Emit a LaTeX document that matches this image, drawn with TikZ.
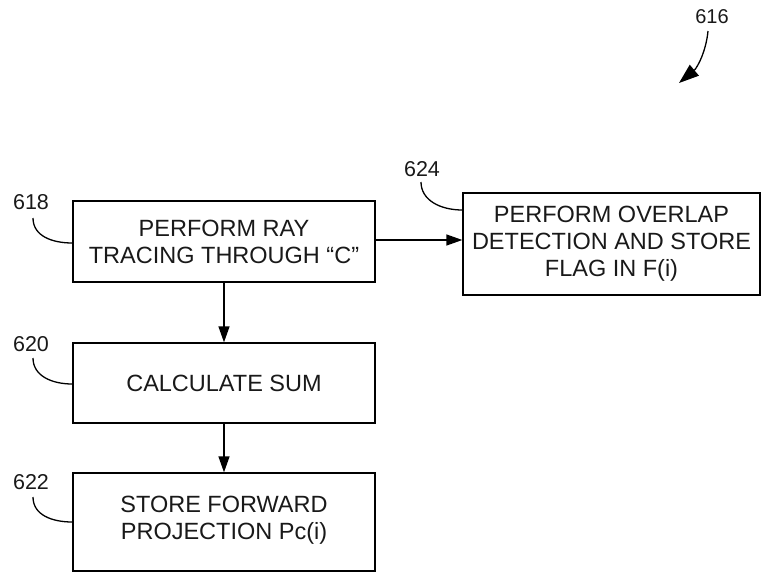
\documentclass[tikz,border=0pt]{standalone}
\usepackage{fontspec}
\setmainfont{Liberation Sans}
\usetikzlibrary{arrows.meta}
\begin{document}
\begin{tikzpicture}[x=1pt,y=-1pt,
  stepbox/.style={draw=black,line width=1.3pt,inner sep=0pt,align=center,
    font=\fontsize{23.5}{27}\selectfont,text=black!90},
  reflabel/.style={font=\fontsize{21.5}{24}\selectfont,text=black!90,inner sep=0pt},
  leader/.style={draw=black,line width=1.3pt},
  flow/.style={draw=black,line width=1.3pt,-{Triangle[length=16pt,width=11pt]}}]
\useasboundingbox (0,0) rectangle (761,573);
\node[stepbox,minimum width=302pt,minimum height=81pt] (b618) at (224,241.5)
  {PERFORM RAY\\TRACING THROUGH \char"201C C\char"201D};
\node[stepbox,minimum width=302pt,minimum height=80pt] (b620) at (224,383)
  {CALCULATE SUM};
\node[stepbox,minimum width=302pt,minimum height=98pt,text depth=8pt] (b622) at (224,522)
  {STORE FORWARD\\PROJECTION Pc(i)};
\node[stepbox,minimum width=297pt,minimum height=102pt] (b624) at (611.5,244)
  {PERFORM OVERLAP\\DETECTION AND STORE\\FLAG IN F(i)};
\draw[flow] (b618.south) -- (b620.north);
\draw[flow] (b620.south) -- (b622.north);
\draw[flow] (b618.east |- 0,240) -- (b624.west |- 0,240);
\node[reflabel] (l618) at (31,202) {618};
\node[reflabel] (l620) at (31,344.5) {620};
\node[reflabel] (l622) at (31,482.5) {622};
\node[reflabel] (l624) at (422,169.5) {624};
\node[reflabel,font=\fontsize{20}{22}\selectfont] (l616) at (712,17) {616};
\draw[leader] (33,218) .. controls (33,236) and (52,243) .. (b618.west |- 0,243);
\draw[leader] (33,358) .. controls (33,376) and (52,384) .. (b620.west |- 0,384);
\draw[leader] (33,497) .. controls (33,515) and (52,522) .. (b622.west |- 0,522);
\draw[leader] (421,182) .. controls (421,200) and (440,210) .. (b624.west |- 0,210);
\coordinate (a616) at (679,83);
\draw[leader,-{Triangle[length=20pt,width=14pt]}] (708,31) .. controls (706,52) and (697,68) .. (a616);
\end{tikzpicture}
\end{document}
